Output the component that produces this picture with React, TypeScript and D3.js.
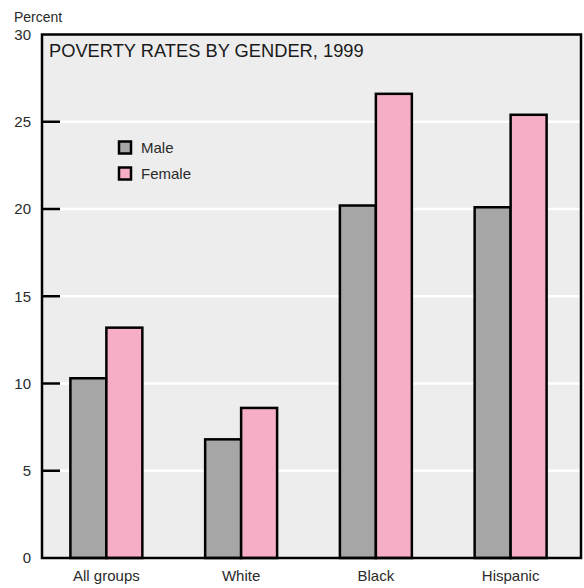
import React from "react";
import * as d3 from "d3";

const categories = ["All groups", "White", "Black", "Hispanic"];
const seriesNames = ["Male", "Female"];
const maleValues = [10.3, 6.8, 20.2, 20.1];
const femaleValues = [13.2, 8.6, 26.6, 25.4];
const yTicks = [0, 5, 10, 15, 20, 25, 30];
const colors = ["#a6a6a6", "#f6adc6"];
const title = "POVERTY RATES BY GENDER, 1999";
const yLabel = "Percent";

const W = 584;
const H = 588;
const left = 42;
const right = 581;
const top = 34.5;
const bottom = 558;
const font = "'Liberation Sans', Arial, Helvetica, sans-serif";

export default function App() {
  const y = d3.scaleLinear().domain([0, 30]).range([bottom, top]);
  const x = d3.scaleBand<string>().domain(categories).range([39, 578]).paddingInner(0.466).paddingOuter(0.233);
  const sub = d3.scaleBand<string>().domain(seriesNames).range([0, x.bandwidth()]);
  const values = [maleValues, femaleValues];

  return (
    <svg width={W} height={H} style={{ position: "absolute", left: 0, top: 0 }}>
      <rect x={0} y={0} width={W} height={H} fill="#ffffff" />
      <rect x={left} y={top} width={right - left} height={bottom - top} fill="#ededed" />
      {yTicks.filter((t) => t > 0 && t < 30).map((t) => (
        <line key={"g" + t} x1={left} x2={right} y1={y(t)} y2={y(t)} stroke="#ffffff" strokeWidth={2.5} />
      ))}
      {categories.map((c, i) =>
        seriesNames.map((s, j) => {
          const v = values[j][i];
          return (
            <rect
              key={c + s}
              x={(x(c) as number) + (sub(s) as number)}
              y={y(v)}
              width={sub.bandwidth()}
              height={y(0) - y(v)}
              fill={colors[j]}
              stroke="#000"
              strokeWidth={2.5}
            />
          );
        })
      )}
      <rect x={left} y={top} width={right - left} height={bottom - top} fill="none" stroke="#000" strokeWidth={2.5} />
      {yTicks.filter((t) => t > 0 && t < 30).map((t) => (
        <line key={"t" + t} x1={left} x2={left + 18} y1={y(t)} y2={y(t)} stroke="#000" strokeWidth={2.5} />
      ))}
      {yTicks.map((t) => (
        <text key={"l" + t} x={31} y={y(t)} dy="0.36em" textAnchor="end" fontFamily={font} fontSize={15} fill="#2a2a2a">
          {t}
        </text>
      ))}
      <text x={14} y={22} fontFamily={font} fontSize={14} fill="#2a2a2a">{yLabel}</text>
      <text x={49} y={56.5} fontFamily={font} fontSize={18.3} fill="#1a1a1a">{title}</text>
      {categories.map((c) => (
        <text key={"c" + c} x={(x(c) as number) + x.bandwidth() / 2} y={581} textAnchor="middle" fontFamily={font} fontSize={15} fill="#2a2a2a">
          {c}
        </text>
      ))}
      {seriesNames.map((s, j) => (
        <g key={"lg" + s} transform={`translate(119, ${141.5 + j * 26})`}>
          <rect x={0} y={0} width={12} height={12} fill={colors[j]} stroke="#000" strokeWidth={2.5} />
          <text x={22} y={11.5} fontFamily={font} fontSize={15} fill="#2a2a2a">{s}</text>
        </g>
      ))}
    </svg>
  );
}
